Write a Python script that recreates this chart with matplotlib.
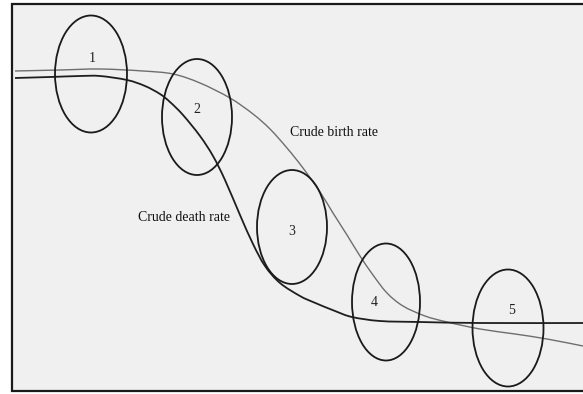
import numpy as np
import matplotlib
matplotlib.use('Agg')
import matplotlib.pyplot as plt
from matplotlib.patches import Ellipse, PathPatch
from matplotlib.path import Path

# schematic of the demographic transition, units = page pixels (y grows downward)
birth_x = [15, 60, 100, 143, 173, 200, 230, 253, 270, 287, 303, 320, 333, 347,
           360, 373, 387, 403, 425, 447, 480, 515, 547, 583]
birth_y = [71, 70, 69, 71, 74, 83, 98, 114, 129, 148, 168, 192, 213, 235,
           256, 275, 293, 306, 316, 322, 329, 334, 339, 346]

death_x = [15, 50, 80, 100, 127, 145, 160, 170, 183, 200, 213, 225, 240, 253,
           265, 280, 300, 313, 335, 352, 380, 420, 480, 583]
death_y = [78, 77, 76, 76, 80, 86, 94, 102, 115, 136, 156, 180, 215, 244,
           266, 283, 296, 302, 311, 317, 321, 322, 323, 323]

stages = ['1', '2', '3', '4', '5']
stage_x = [91, 197, 292, 386, 508]
stage_y = [74, 117, 227, 302, 328]
stage_w = [72, 70, 70, 68, 71]
stage_h = [117, 116, 114, 117, 117]
label_x = [92, 197, 292, 374, 512]
label_y = [58, 109, 231, 303, 311]


def smooth_path(xs, ys):
	# catmull-rom through the read points, drawn as cubic bezier segments
	p = np.column_stack([xs, ys]).astype(float)
	verts = [p[0]]
	codes = [Path.MOVETO]
	for k in range(len(p) - 1):
		p0 = p[k - 1] if k > 0 else p[k]
		p3 = p[k + 2] if k + 2 < len(p) else p[k + 1]
		c1 = p[k] + (p[k + 1] - p0) / 6.0
		c2 = p[k + 1] - (p3 - p[k]) / 6.0
		verts += [c1, c2, p[k + 1]]
		codes += [Path.CURVE4] * 3
	return Path(verts, codes)


fig = plt.figure(figsize=(5.83, 3.94), dpi=100)
ax = fig.add_axes([0, 0, 1, 1])
ax.set_xlim(0, 583)
ax.set_ylim(394, 0)
ax.axis('off')

# page background and frame
ax.add_patch(plt.Rectangle((12, 4), 600, 387, facecolor='#f0f0f0', edgecolor='#1a1a1a', lw=1.6))

ax.add_patch(PathPatch(smooth_path(birth_x, birth_y), fill=False, edgecolor='#6e6e6e', lw=1.0))
ax.add_patch(PathPatch(smooth_path(death_x, death_y), fill=False, edgecolor='#1e1e1e', lw=1.3))

for i in range(len(stages)):
	ax.add_patch(Ellipse((stage_x[i], stage_y[i]), stage_w[i], stage_h[i],
	                     fill=False, edgecolor='#1a1a1a', lw=1.3))
	ax.text(label_x[i], label_y[i], stages[i], ha='center', va='center',
	        fontsize=10, family='Liberation Serif', color='#222222')

ax.text(290, 132, 'Crude birth rate', ha='left', va='center',
        fontsize=10, family='Liberation Serif', color='#111111')
ax.text(138, 217, 'Crude death rate', ha='left', va='center',
        fontsize=10, family='Liberation Serif', color='#111111')

plt.savefig('out.png', dpi=100)
